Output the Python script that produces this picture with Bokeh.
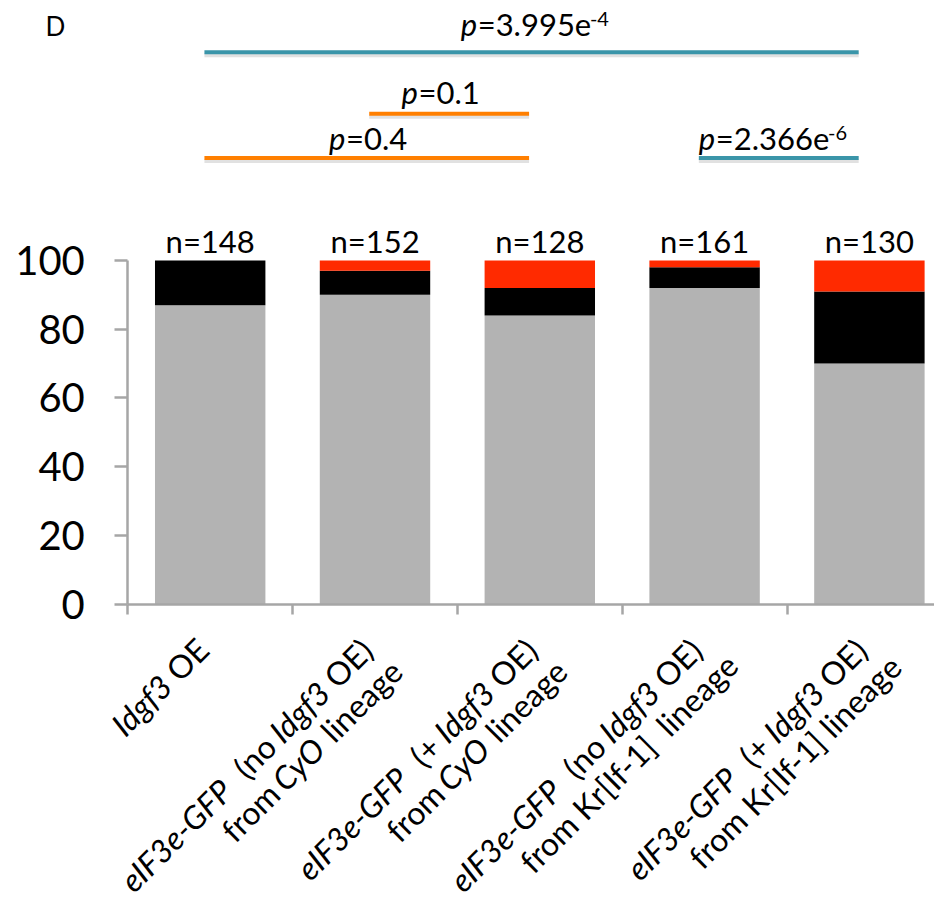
import math
from bokeh.plotting import figure
from bokeh.models import Range1d, LinearAxis, FixedTicker, ColumnDataSource
from bokeh.core.properties import value
from bokeh.embed import file_html
from bokeh.resources import INLINE

# ---------------- data ----------------
n_counts = [148, 152, 128, 161, 130]
gray_pct = [87, 90, 84, 92, 70]
black_pct = [13, 7, 8, 6, 21]
red_pct = [0, 3, 8, 2, 9]
y_ticks = [0, 20, 40, 60, 80, 100]

# category labels: lines of (text, italic) segments
category_labels = [
    [[("Idgf3", True), (" OE", False)]],
    [[("eIF3e-GFP", True), ("  (no ", False), ("Idgf3", True), (" OE)", False)],
     [("from ", False), ("CyO", True), (" lineage", False)]],
    [[("eIF3e-GFP", True), ("  (+ ", False), ("Idgf3", True), (" OE)", False)],
     [("from ", False), ("CyO", True), (" lineage", False)]],
    [[("eIF3e-GFP", True), ("  (no ", False), ("Idgf3", True), (" OE)", False)],
     [("from Kr[If-1]  lineage", False)]],
    [[("eIF3e-GFP", True), ("  (+ ", False), ("Idgf3", True), (" OE)", False)],
     [("from Kr[If-1] lineage", False)]],
]

# statistical comparisons (bar index pairs) and p-values
cmp_from = [0, 1, 0, 3]
cmp_to = [4, 2, 2, 4]
p_mantissa = ["3.995e", "0.1", "0.4", "2.366e"]
p_exponent = ["-4", "", "", "-6"]
panel_letter = "D"

# ---------------- layout / style ----------------
W, H = 934, 900
PX_X = 164.8          # px per category
PX_Y = 3.435          # px per percent
X0 = 127.3            # canvas x of data x=0
Y0 = 603.5            # canvas y of data y=0
FONT = value("Lato")
AXIS_GRAY = "#a6a6a6"
COLORS = ["#b3b3b3", "#000000", "#ff2a00"]
CMP_COLORS = ["#3a95a9", "#ff7f00", "#ff7f00", "#3a95a9"]
CMP_LEVEL_PX = [51.7, 113.3, 157.5, 157.5]
CMP_TEXT_GAP = [17, 11, 9, 9]
CMP_TEXT_SHIFT = [3, -9, 1, -6]
BASE_FIX = 0.36       # empirical baseline correction (fraction of font size)

LATO_W = {' ': .193, 'a': .483, 'd': .548, 'e': .511, 'f': .322, 'g': .497, 'i': .238,
          'l': .238, 'm': .813, 'n': .548, 'o': .547, 'p': .548, 'r': .37, 'y': .49,
          '.': .21, '-': .348, '(': .3, ')': .3, '[': .3, ']': .3, '=': .58, '+': .58,
          'C': .682, 'E': .568, 'F': .55, 'G': .734, 'I': .276, 'K': .652, 'O': .795,
          'P': .562}
for d in "0123456789":
    LATO_W[d] = .58


def tw(s, size):
    return sum(LATO_W.get(ch, .55) for ch in s) * size


def ypx(py):
    """canvas y (px from top) -> data y"""
    return (Y0 - py) / PX_Y


def xpx(px):
    return (px - X0) / PX_X


p = figure(width=W, height=H, output_backend="svg", toolbar_location=None,
           x_range=Range1d(-X0 / PX_X, (W - X0) / PX_X),
           y_range=Range1d(-(H - Y0) / PX_Y, Y0 / PX_Y),
           x_axis_location=None, y_axis_location=None, min_border=0,
           outline_line_color=None, background_fill_color="white",
           border_fill_color="white")
p.grid.visible = False

centers = [i + 0.5 for i in range(len(n_counts))]
src = ColumnDataSource(dict(x=centers, gray=gray_pct, black=black_pct, red=red_pct))
p.vbar_stack(["gray", "black", "red"], x="x", width=0.67, color=COLORS,
             line_color=None, source=src)

# n labels
N_SIZE = 31
p.text(x=centers, y=[100 + (8.3 + BASE_FIX * N_SIZE) / PX_Y] * len(centers),
       text=[f"n={n}" for n in n_counts],
       text_font=FONT, text_font_size=f"{N_SIZE}px", text_align="center",
       text_baseline="alphabetic", text_color="black")

# axes
yax = LinearAxis(fixed_location=0, bounds=(0, 100), ticker=FixedTicker(ticks=y_ticks),
                 axis_line_color=AXIS_GRAY, axis_line_width=2.5,
                 major_tick_line_color=AXIS_GRAY, major_tick_line_width=2.5,
                 major_tick_out=13, major_tick_in=0, minor_tick_out=0, minor_tick_in=0,
                 major_label_text_font="Lato", major_label_text_font_size="40px",
                 major_label_text_color="black", major_label_standoff=30)
p.add_layout(yax, "left")
x_ticks = list(range(len(n_counts) + 1))
xax = LinearAxis(fixed_location=0, bounds=(0, 5),
                 ticker=FixedTicker(ticks=x_ticks),
                 axis_line_color=AXIS_GRAY, axis_line_width=2.5,
                 major_tick_line_color=AXIS_GRAY, major_tick_line_width=2.5,
                 major_tick_out=10, major_tick_in=0, minor_tick_out=0, minor_tick_in=0,
                 major_label_overrides={t: "" for t in x_ticks})
p.add_layout(xax, "below")

# rotated category labels with mixed italic segments
c = math.sqrt(0.5)
LBL_SIZE = 32
lfix = BASE_FIX * LBL_SIZE
seg = {True: dict(x=[], y=[], text=[]), False: dict(x=[], y=[], text=[])}
for i, lines in enumerate(category_labels):
    ex, ey = 0.0, 48.0
    for li, line in enumerate(lines):
        if li == 1:
            ex, ey = ex + 36 * c + 3 * c, ey + 36 * c - 3 * c
        total = sum(tw(t, LBL_SIZE) for t, _ in line)
        off = 0.0
        for t, it in line:
            lead = len(t) - len(t.lstrip(" "))
            body = t.strip(" ").replace("  ", " \u00a0")
            rem = total - off - tw(" " * lead, LBL_SIZE)
            px = ex - rem * c - lfix * c
            py = ey + rem * c - lfix * c
            seg[it]["x"].append(centers[i] + px / PX_X)
            seg[it]["y"].append(-py / PX_Y)
            seg[it]["text"].append(body)
            off += tw(t, LBL_SIZE)
for it in (True, False):
    p.text(x="x", y="y", text="text", source=ColumnDataSource(seg[it]), angle=math.pi / 4,
           text_font=FONT, text_font_size=f"{LBL_SIZE}px",
           text_font_style="italic" if it else "normal",
           text_align="left", text_baseline="alphabetic", text_color="black")

# comparison brackets with p-values
P_SIZE, SUP_SIZE = 31, 20
for k in range(len(cmp_from)):
    x0 = cmp_from[k] + 0.5 - 0.035
    x1 = cmp_to[k] + 0.5 - 0.065
    lvl = ypx(CMP_LEVEL_PX[k])
    p.segment(x0=[x0], y0=[lvl - 3 / PX_Y], x1=[x1], y1=[lvl - 3 / PX_Y],
              line_color="#9a9a9a", line_alpha=0.3, line_width=4)
    p.segment(x0=[x0], y0=[lvl], x1=[x1], y1=[lvl], line_color=CMP_COLORS[k], line_width=4)
    main = "=" + p_mantissa[k]
    wp, wm, ws = tw("p", P_SIZE), tw(main, P_SIZE), tw(p_exponent[k], SUP_SIZE)
    total = wp + wm + ws
    start = (x0 + x1) / 2 + (-total / 2 + CMP_TEXT_SHIFT[k]) / PX_X
    base = lvl + (CMP_TEXT_GAP[k] + BASE_FIX * P_SIZE) / PX_Y
    p.text(x=[start], y=[base], text=["p"], text_font=FONT, text_font_size=f"{P_SIZE}px",
           text_font_style="italic", text_align="left", text_baseline="alphabetic")
    p.text(x=[start + wp / PX_X], y=[base], text=[main], text_font=FONT,
           text_font_size=f"{P_SIZE}px", text_align="left", text_baseline="alphabetic")
    if p_exponent[k]:
        sup_base = lvl + (CMP_TEXT_GAP[k] + 9 + BASE_FIX * SUP_SIZE) / PX_Y
        p.text(x=[start + (wp + wm) / PX_X], y=[sup_base], text=[p_exponent[k]],
               text_font=FONT, text_font_size=f"{SUP_SIZE}px", text_align="left",
               text_baseline="alphabetic")

# panel letter
D_SIZE = 26
p.text(x=[xpx(45)], y=[ypx(35) + BASE_FIX * D_SIZE / PX_Y], text=[panel_letter],
       text_font=FONT, text_font_size=f"{D_SIZE}px", text_align="left",
       text_baseline="alphabetic")

open("out.html", "w").write(file_html(p, INLINE))
